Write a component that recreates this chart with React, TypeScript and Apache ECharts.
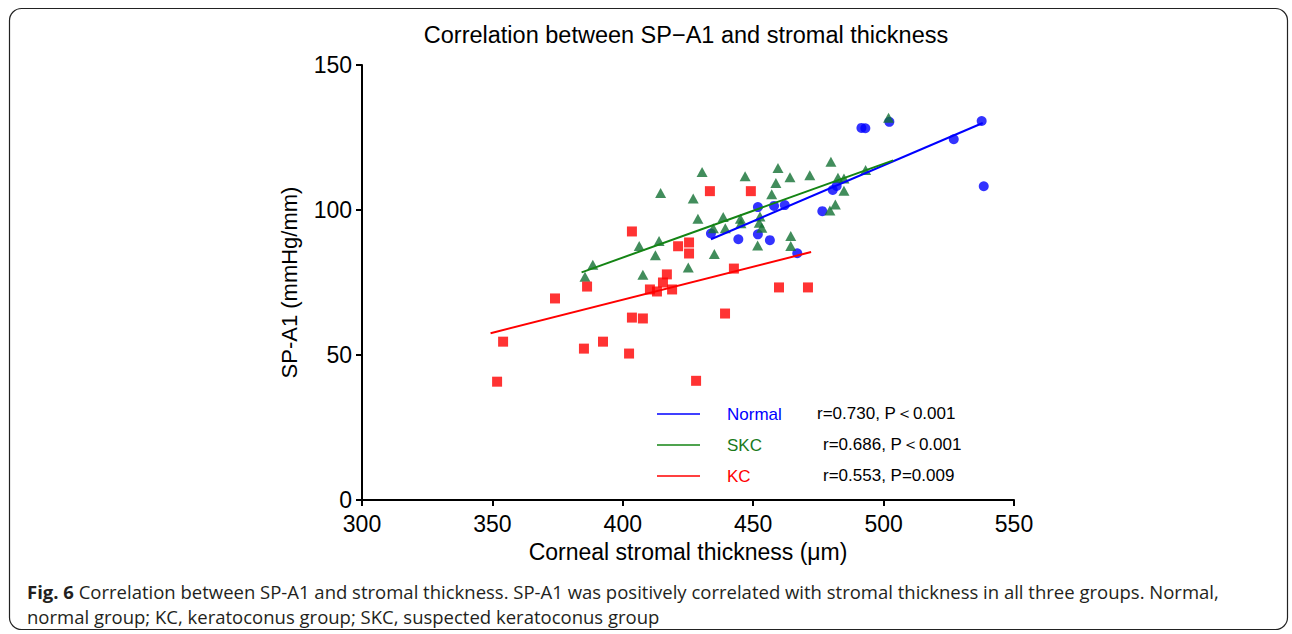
import React, { useEffect, useRef } from "react";
import * as echarts from "echarts";

// ---- Data ----
const normalPoints: [number, number][] = [
  [433.8, 91.9], [444.3, 89.9], [451.8, 101.0], [451.8, 91.6], [456.4, 89.6],
  [458.0, 101.4], [462.1, 101.7], [466.9, 85.1], [476.5, 99.6], [480.5, 106.9],
  [482.0, 108.3], [491.5, 128.3], [493.0, 128.2], [502.2, 130.4], [526.9, 124.4],
  [537.6, 130.7], [538.4, 108.2],
];
const skcPoints: [number, number][] = [
  [385.5, 77.0], [388.5, 81.1], [406.3, 87.6], [407.7, 77.7], [412.5, 84.4],
  [413.9, 89.3], [414.5, 105.9], [425.1, 80.2], [427.0, 104.0], [428.8, 97.0],
  [430.4, 113.1], [435.1, 84.8], [434.7, 93.7], [438.5, 97.6], [439.3, 93.7],
  [445.1, 97.0], [445.3, 95.4], [446.9, 111.6], [451.7, 87.8], [452.6, 97.8],
  [452.3, 95.6], [453.3, 93.9], [457.1, 105.4], [458.7, 109.3], [459.5, 114.5],
  [464.1, 111.3], [464.4, 91.0], [464.4, 87.6], [471.7, 112.0], [479.8, 116.6],
  [479.4, 99.8], [481.5, 101.9], [482.5, 111.1], [484.8, 110.9], [484.8, 106.6],
  [493.1, 113.8], [501.9, 131.8],
];
const kcPoints: [number, number][] = [
  [351.8, 40.8], [354.1, 54.6], [374.0, 69.5], [386.3, 73.6], [385.1, 52.2],
  [392.4, 54.6], [403.5, 92.6], [403.5, 62.9], [402.4, 50.5], [407.7, 62.6],
  [410.4, 72.6], [413.1, 71.9], [415.4, 75.0], [416.9, 77.8], [418.9, 72.6],
  [421.2, 87.5], [425.4, 88.8], [425.4, 85.0], [428.1, 41.1], [433.4, 106.5],
  [439.2, 64.3], [442.6, 79.8], [449.1, 106.5], [459.9, 73.3], [471.0, 73.3],
];
const normalFit: [number, number][] = [[433.8, 89.9], [538.0, 130.0]];
const skcFit: [number, number][] = [[384.2, 78.5], [503.7, 117.1]];
const kcFit: [number, number][] = [[349.3, 57.5], [472.2, 85.5]];

const legendNames = ["Normal", "SKC", "KC"];
const legendStats = ["r=0.730, P\uFF1C0.001", "r=0.686, P\uFF1C0.001", "r=0.553, P=0.009"];

const xMin = 300, xMax = 550, xStep = 50;
const yMin = 0, yMax = 150, yStep = 50;

const titleText = "Correlation between SP\u2212A1 and stromal thickness";
const xTitle = "Corneal stromal thickness (\u03BCm)";
const yTitle = "SP-A1 (mmHg/mm)";
const captionLine1 =
  "{b|Fig. 6} Correlation between SP-A1 and stromal thickness. SP-A1 was positively correlated with stromal thickness in all three groups. Normal,";
const captionLine2 = "normal group; KC, keratoconus group; SKC, suspected keratoconus group";

// ---- Styles ----
const BLUE = "#0000ff";
const GREEN_MARK = "#137033";
const GREEN_LINE = "#148414";
const GREEN_TEXT = "#1a7a1a";
const RED = "#ff0000";
const FONT = "'Liberation Sans', Arial, sans-serif";
const CAP_FONT = "'Open Sans', sans-serif";

export default function App() {
  const ref = useRef<HTMLDivElement>(null);

  useEffect(() => {
    if (!ref.current) return;
    const chart = echarts.init(ref.current, undefined, { renderer: "svg" });

    const legendColors = [BLUE, GREEN_LINE, RED];
    const legendTextColors = [BLUE, GREEN_TEXT, RED];
    const legendY = [414, 445, 476];
    const statX = [817, 823, 823];
    const legendGraphics: any[] = [];
    legendNames.forEach((name, i) => {
      legendGraphics.push({
        type: "line",
        shape: { x1: 657, y1: legendY[i], x2: 700, y2: legendY[i] },
        style: { stroke: legendColors[i], lineWidth: 1.6 },
      });
      legendGraphics.push({
        type: "text",
        x: 727,
        y: legendY[i],
        style: { text: name, fill: legendTextColors[i], font: `17px ${FONT}`, verticalAlign: "middle" },
      });
      legendGraphics.push({
        type: "text",
        x: statX[i],
        y: legendY[i] - 1,
        style: { text: legendStats[i], fill: "#000", font: `17px ${FONT}`, verticalAlign: "middle" },
      });
    });

    const option: any = {
      animation: false,
      backgroundColor: "#fff",
      grid: { left: 362, right: 278, top: 65, bottom: 134, containLabel: false },
      xAxis: {
        type: "value",
        min: xMin,
        max: xMax,
        interval: xStep,
        name: xTitle,
        nameLocation: "middle",
        nameGap: 37,
        nameTextStyle: { fontFamily: FONT, fontSize: 23, color: "#000" },
        axisLine: { show: true, onZero: false, lineStyle: { color: "#000", width: 2 } },
        axisTick: { show: true, length: 6, lineStyle: { color: "#000", width: 2 } },
        axisLabel: { fontFamily: FONT, fontSize: 23, lineHeight: 20, color: "#000", margin: 14 },
        splitLine: { show: false },
      },
      yAxis: {
        type: "value",
        min: yMin,
        max: yMax,
        interval: yStep,
        name: yTitle,
        nameLocation: "middle",
        nameGap: 62,
        nameRotate: 90,
        nameTextStyle: { fontFamily: FONT, fontSize: 22, color: "#000" },
        axisLine: { show: true, onZero: false, lineStyle: { color: "#000", width: 2 } },
        axisTick: { show: true, length: 6, lineStyle: { color: "#000", width: 2 } },
        axisLabel: { fontFamily: FONT, fontSize: 23, lineHeight: 18, color: "#000", margin: 10 },
        splitLine: { show: false },
      },
      series: [
        {
          name: "Normal",
          type: "scatter",
          data: normalPoints,
          symbol: "circle",
          symbolSize: 10,
          itemStyle: { color: BLUE },
          z: 2,
        },
        {
          name: "SKC",
          type: "scatter",
          data: skcPoints,
          symbol: "triangle",
          symbolSize: [11, 10],
          itemStyle: { color: GREEN_MARK },
          z: 3,
        },
        {
          name: "KC",
          type: "scatter",
          data: kcPoints,
          symbol: "rect",
          symbolSize: 10,
          itemStyle: { color: RED },
          z: 4,
        },
        {
          name: "Normal fit",
          type: "line",
          data: normalFit,
          showSymbol: false,
          symbol: "none",
          lineStyle: { color: BLUE, width: 2 },
          z: 5,
        },
        {
          name: "SKC fit",
          type: "line",
          data: skcFit,
          showSymbol: false,
          symbol: "none",
          lineStyle: { color: GREEN_LINE, width: 2 },
          z: 5,
        },
        {
          name: "KC fit",
          type: "line",
          data: kcFit,
          showSymbol: false,
          symbol: "none",
          lineStyle: { color: RED, width: 2 },
          z: 5,
        },
      ],
      graphic: [
        {
          type: "rect",
          shape: { x: 9.5, y: 8.5, width: 1278, height: 621, r: 12 },
          style: { fill: "none", stroke: "#222", lineWidth: 1.2 },
          silent: true,
        },
        {
          type: "text",
          x: 686,
          y: 35,
          style: {
            text: titleText,
            fill: "#000",
            font: `23.5px ${FONT}`,
            align: "center",
            verticalAlign: "middle",
          },
        },
        ...legendGraphics,
        {
          type: "text",
          x: 27,
          y: 591,
          style: {
            text: captionLine1,
            fill: "#231f20",
            font: `18.5px ${CAP_FONT}`,
            verticalAlign: "middle",
            rich: { b: { fontWeight: "bold", fontSize: 18.5, fontFamily: CAP_FONT, fill: "#231f20" } },
          },
        },
        {
          type: "text",
          x: 27,
          y: 616,
          style: { text: captionLine2, fill: "#231f20", font: `18.5px ${CAP_FONT}`, verticalAlign: "middle" },
        },
      ],
    };

    chart.setOption(option);
    return () => chart.dispose();
  }, []);

  return (
    <div
      ref={ref}
      style={{ position: "fixed", left: 0, top: 0, width: 1292, height: 634 }}
    />
  );
}
